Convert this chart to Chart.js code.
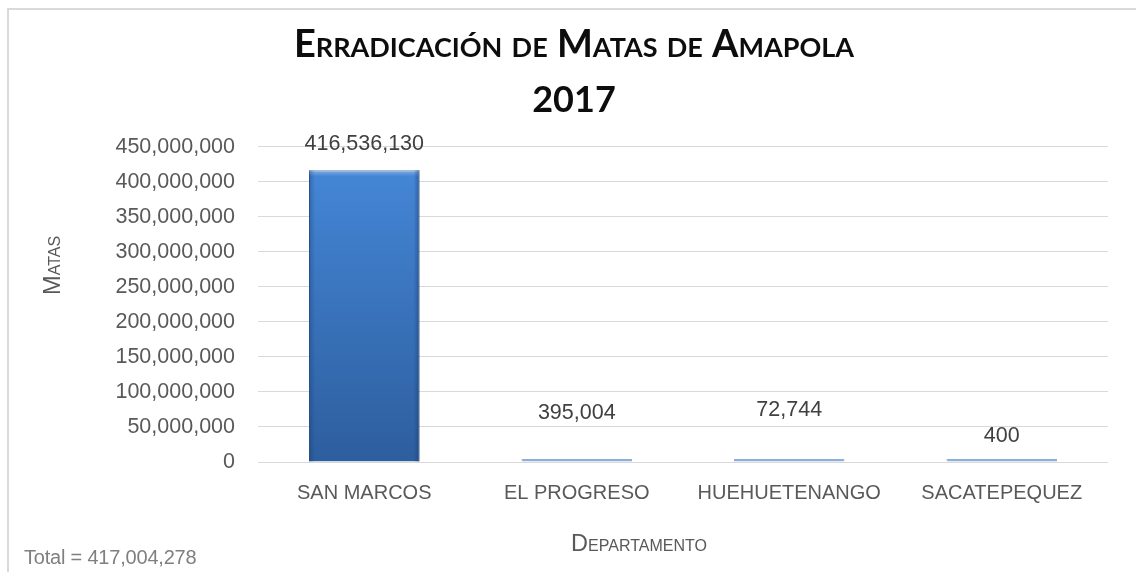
<!DOCTYPE html>
<html>
<head>
<meta charset="utf-8">
<script src="https://cdn.jsdelivr.net/npm/chart.js@4.4.1/dist/chart.umd.min.js"></script>
<style>
    html, body { margin: 0; padding: 0; background: #fff; }
    .wrap { position: relative; width: 1136px; height: 572px; overflow: hidden; }
    .frame { position: absolute; left: 7px; top: 8px; width: 1200px; height: 600px;
             border-left: 2px solid #d9d9d9; border-top: 2px solid #d9d9d9; }
    canvas { position: absolute; left: 0; top: 0; }
    .total { position: absolute; left: 24px; top: 546px; font: 20px "Liberation Sans", Arial, sans-serif;
             color: #7f7f7f; white-space: nowrap; letter-spacing: -0.2px; }
</style>
</head>
<body>
<div class="wrap">
    <div class="frame"></div>
    <canvas id="chart" width="1136" height="572"></canvas>
    <div class="total">Total = 417,004,278</div>
</div>
<script>
// data
const departamentos = [ 'SAN MARCOS', 'EL PROGRESO', 'HUEHUETENANGO', 'SACATEPEQUEZ' ];
const matas         = [ 416536130, 395004, 72744, 400 ];
const yTicks        = [ 0, 50000000, 100000000, 150000000, 200000000, 250000000, 300000000, 350000000, 400000000, 450000000 ];

// label lift above each bar (px), the reference has some labels nudged up
const LABEL_LIFT = [ 26, 46, 49, 23 ];

const fmt = ( v ) => new Intl.NumberFormat( 'en-US' ).format( v );

const SANS  = '"Liberation Sans", Arial, sans-serif';
const GREY  = '#595959';
const isTiny = ( v ) => v < yTicks[ yTicks.length - 1 ] / 100;

function barFill( c ) {
    const area = c.chart.chartArea;
    if ( isTiny( c.raw ) ) return '#8eaedc';
    if ( ! area ) return '#3b78c6';
    const g = c.chart.ctx.createLinearGradient( 0, area.top, 0, area.bottom );
    g.addColorStop( 0, '#4689da' );
    g.addColorStop( 1, '#2d5e9e' );
    return g;
}

// soft bevel on the tall bar, like the Excel preset
const bevel = {
    id: 'bevel',
    afterDatasetsDraw( chart ) {
        const { ctx } = chart;
        chart.getDatasetMeta( 0 ).data.forEach( ( bar, i ) => {
            if ( isTiny( matas[ i ] ) ) return;
            const l = bar.x - bar.width / 2, r = bar.x + bar.width / 2;
            const t = bar.y, b = bar.base, e = 6;
            ctx.save();
            let g = ctx.createLinearGradient( 0, t, 0, t + e );
            g.addColorStop( 0, 'rgba(255,255,255,0.35)' );
            g.addColorStop( 1, 'rgba(255,255,255,0)' );
            ctx.fillStyle = g;
            ctx.fillRect( l, t, r - l, e );
            g = ctx.createLinearGradient( l, 0, l + e, 0 );
            g.addColorStop( 0, 'rgba(20,50,100,0.35)' );
            g.addColorStop( 1, 'rgba(20,50,100,0)' );
            ctx.fillStyle = g;
            ctx.fillRect( l, t, e, b - t );
            g = ctx.createLinearGradient( r, 0, r - e, 0 );
            g.addColorStop( 0, 'rgba(20,50,100,0.45)' );
            g.addColorStop( 1, 'rgba(20,50,100,0)' );
            ctx.fillStyle = g;
            ctx.fillRect( r - e, t, e, b - t );
            ctx.restore();
        } );
    },
};

const valueLabels = {
    id: 'valueLabels',
    afterDatasetsDraw( chart ) {
        const { ctx } = chart;
        const meta = chart.getDatasetMeta( 0 );
        ctx.save();
        ctx.font = '21.5px ' + SANS;
        ctx.fillStyle = '#404040';
        ctx.textAlign = 'center';
        ctx.textBaseline = 'middle';
        meta.data.forEach( ( bar, i ) => ctx.fillText( fmt( matas[ i ] ), bar.x, bar.y - LABEL_LIFT[ i ] ) );
        ctx.restore();
    },
};

// axis titles in small caps, placed like the Excel original
const axisTitles = {
    id: 'axisTitles',
    afterDraw( chart ) {
        const { ctx, chartArea } = chart;
        ctx.save();
        ctx.font = 'small-caps 23.5px ' + SANS;
        ctx.fillStyle = GREY;
        ctx.textAlign = 'center';
        ctx.textBaseline = 'middle';
        ctx.translate( 54, ( chartArea.top + chartArea.bottom ) / 2 - 39 );
        ctx.rotate( -Math.PI / 2 );
        ctx.fillText( 'Matas', 0, 0 );
        ctx.restore();

        ctx.save();
        ctx.font = 'small-caps 23.5px ' + SANS;
        ctx.fillStyle = GREY;
        ctx.textAlign = 'center';
        ctx.textBaseline = 'middle';
        ctx.fillText( 'Departamento', 639, 545 );
        ctx.restore();
    },
};

new Chart( document.getElementById( 'chart' ), {
    type: 'bar',
    data: {
        labels: departamentos,
        datasets: [ {
            label: 'Matas',
            data: matas,
            backgroundColor: barFill,
            borderColor: ( c ) => isTiny( c.raw ) ? '#8eaedc' : '#2f5f9c',
            borderWidth: 1,
            minBarLength: 3,
            barPercentage: 0.52,
            categoryPercentage: 1,
        } ],
    },
    options: {
        responsive: false,
        animation: false,
        devicePixelRatio: 1,
        layout: { padding: { left: 40, right: 28, top: 0, bottom: 0 } },
        plugins: {
            legend: { display: false },
            tooltip: { enabled: false },
            title: {
                display: true,
                text: 'Erradicación de Matas de Amapola',
                color: '#0d0d0d',
                font: { family: 'Lato, "Open Sans", sans-serif', size: 38, weight: 'small-caps bold', lineHeight: 1.2 },
                padding: { top: 22, bottom: 0 },
            },
            subtitle: {
                display: true,
                text: '2017',
                color: '#0d0d0d',
                font: { family: 'Lato, "Open Sans", sans-serif', size: 36, weight: 'bold', lineHeight: 1.2 },
                padding: { top: 11, bottom: 25 },
            },
        },
        scales: {
            x: {
                grid: { display: false, drawTicks: false },
                border: { display: false },
                ticks: { color: GREY, font: { family: SANS, size: 20 }, padding: 19, maxRotation: 0 },
                afterFit: ( s ) => { s.height = 110; },
            },
            y: {
                min: 0,
                max: yTicks[ yTicks.length - 1 ],
                afterBuildTicks: ( s ) => { s.ticks = yTicks.map( ( v ) => ( { value: v } ) ); },
                grid: { color: '#d9d9d9', lineWidth: 1, drawTicks: false },
                border: { display: false },
                ticks: { color: GREY, font: { family: SANS, size: 21.5 }, padding: 23, callback: ( v ) => fmt( v ) },
                afterFit: ( s ) => { s.width = 218; },
            },
        },
    },
    plugins: [ bevel, valueLabels, axisTitles ],
} );
</script>
</body>
</html>
